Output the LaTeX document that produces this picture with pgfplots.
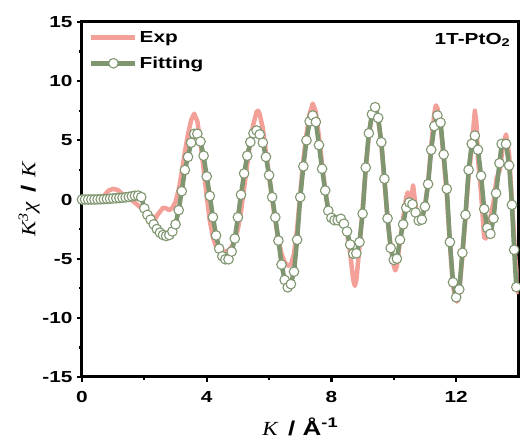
\documentclass[border=0pt]{standalone}
\usepackage{pgfplots}
\pgfplotsset{compat=1.18}
\usepackage{fontspec}
\setmainfont{Liberation Sans}[FakeStretch=1.3]
\newfontfamily\tnr{Liberation Serif}[FakeStretch=1.15]
\definecolor{expc}{RGB}{242,160,152}
\definecolor{fitc}{RGB}{128,150,112}
\begin{document}
\begin{tikzpicture}
\path[use as bounding box] (-82pt,-67pt) rectangle (438pt,377pt);
\begin{axis}[
  scale only axis,
  width=436.5pt, height=355pt,
  xmin=0, xmax=14, ymin=-15, ymax=15,
  xtick={0,4,8,12}, ytick={-15,-10,-5,0,5,10,15},
  minor xtick={2,6,10}, minor ytick={-12.5,-7.5,-2.5,2.5,7.5,12.5},
  xtick pos=bottom, ytick pos=left,
  tick align=outside,
  major tick length=5pt, minor tick length=3pt,
  every tick/.style={black, line width=2.2pt},
  axis line style={line width=3pt},
  /pgf/number format/assume math mode=true,
  ticklabel style={font=\fontsize{16}{16}\selectfont\bfseries},
  xticklabel style={yshift=-6pt},
  yticklabel style={xshift=-1pt},
  xlabel={{\tnr\itshape K}\, \textbf{/ Å\textsuperscript{-1}}},
  ylabel={{\tnr\itshape K\textsuperscript{3}χ}\, \textbf{/} {\tnr\itshape K}},
  label style={font=\fontsize{20}{20}\selectfont},
  xlabel style={yshift=-8pt},
  ylabel style={yshift=-4pt},
  legend style={at={(axis description cs:0,1)}, anchor=north west,
    xshift=5pt, yshift=-5pt, draw=none, fill=none,
    font=\fontsize{16}{16}\selectfont\bfseries, row sep=9pt,
    inner sep=2pt},
  legend cell align=left,
  legend image code/.code={\draw[mark repeat=2,mark phase=2,#1] plot coordinates {(0pt,0pt) (22pt,0pt) (44pt,0pt)};},
]
\addplot[expc, line width=4.5pt, line join=round] table {
0.0 0.0
0.5 0.0
0.7 0.3
0.85 0.75
1.0 0.9
1.15 0.8
1.3 0.45
1.45 0.2
1.6 -0.05
1.8 -0.5
2.0 -0.9
2.2 -1.3
2.35 -1.6
2.45 -1.2
2.6 -0.7
2.7 -0.75
2.8 -0.9
2.9 -0.7
3.0 -0.2
3.1 0.8
3.2 2.3
3.3 4.0
3.4 5.5
3.5 6.7
3.6 7.25
3.7 6.6
3.8 4.8
3.9 2.6
4.0 0.3
4.1 -1.8
4.2 -3.2
4.3 -4.0
4.4 -4.4
4.5 -4.5
4.6 -4.4
4.7 -4.3
4.8 -4.0
4.9 -3.4
5.0 -2.5
5.1 -1.0
5.2 1.0
5.3 3.0
5.4 4.9
5.5 6.4
5.6 7.4
5.65 7.5
5.7 7.2
5.8 6.0
5.9 4.0
6.0 2.0
6.1 0.0
6.2 -1.8
6.3 -3.4
6.4 -4.6
6.5 -5.3
6.6 -5.6
6.7 -5.5
6.8 -4.6
6.9 -2.5
7.0 0.5
7.1 3.3
7.2 5.5
7.3 7.2
7.4 8.1
7.5 7.4
7.6 5.3
7.7 3.0
7.8 0.8
7.9 -0.9
8.0 -1.5
8.1 -1.7
8.2 -1.7
8.3 -1.6
8.4 -2.0
8.5 -2.8
8.6 -4.5
8.7 -6.8
8.75 -7.3
8.8 -6.8
8.9 -4.0
9.0 -0.8
9.1 2.6
9.2 5.4
9.3 7.1
9.4 7.7
9.5 6.8
9.6 4.7
9.7 1.6
9.8 -1.6
9.9 -4.0
10.0 -5.6
10.05 -6.0
10.1 -5.6
10.2 -3.5
10.3 -1.6
10.4 0.2
10.45 0.6
10.5 0.0
10.55 -0.1
10.62 1.2
10.7 -0.6
10.8 -1.5
10.9 -1.6
11.0 -0.6
11.1 1.4
11.2 4.5
11.3 7.3
11.35 7.95
11.4 7.7
11.5 6.4
11.6 3.5
11.7 0.4
11.8 -3.8
11.9 -7.3
12.0 -8.6
12.05 -8.6
12.1 -7.8
12.2 -4.8
12.3 -1.5
12.4 2.0
12.5 4.4
12.6 7.5
12.65 6.5
12.7 3.5
12.8 0.5
12.9 -3.2
12.95 -3.3
13.0 -2.5
13.1 -1.5
13.2 -0.2
13.3 1.8
13.4 2.5
13.5 4.5
13.6 5.5
13.7 3.8
13.8 -0.6
13.9 -5.0
14.0 -8.0
};
\addlegendentry{Exp}
\addplot[fitc, line width=4.5pt, line join=round, mark=*, mark size=4.8pt,
  mark options={fill=white, draw=fitc, line width=1.1pt}] table {
0.0 0.00
0.1 0.00
0.2 0.00
0.3 0.00
0.4 0.00
0.5 0.01
0.6 0.02
0.7 0.03
0.8 0.05
0.9 0.07
1.0 0.09
1.1 0.11
1.2 0.13
1.3 0.15
1.4 0.18
1.5 0.22
1.6 0.27
1.7 0.32
1.8 0.33
1.9 0.20
2.0 -0.75
2.1 -1.30
2.2 -1.70
2.3 -2.10
2.4 -2.50
2.5 -2.80
2.6 -3.00
2.7 -3.08
2.8 -3.00
2.9 -2.70
3.0 -2.10
3.1 -0.90
3.2 0.70
3.3 2.50
3.4 3.60
3.5 4.80
3.6 5.55
3.7 5.55
3.8 4.90
3.9 3.70
4.0 1.95
4.1 0.30
4.2 -1.50
4.3 -3.04
4.4 -4.15
4.5 -4.80
4.6 -5.05
4.7 -5.05
4.8 -4.40
4.9 -3.30
5.0 -1.50
5.1 0.40
5.2 2.20
5.3 3.70
5.4 4.85
5.5 5.60
5.6 5.83
5.7 5.50
5.8 4.80
5.9 3.60
6.0 2.05
6.1 0.20
6.2 -1.50
6.3 -3.47
6.4 -5.50
6.5 -6.80
6.6 -7.42
6.7 -7.15
6.8 -6.10
6.9 -3.40
7.0 0.20
7.1 2.80
7.2 5.00
7.3 6.60
7.4 7.10
7.5 6.55
7.6 4.60
7.7 2.60
7.8 0.76
7.9 -0.95
8.0 -1.55
8.1 -1.75
8.2 -1.75
8.3 -1.63
8.4 -2.05
8.5 -2.70
8.6 -3.80
8.7 -4.58
8.8 -4.55
8.9 -3.60
9.0 -1.20
9.1 2.70
9.2 5.60
9.3 7.20
9.4 7.80
9.5 6.90
9.6 4.84
9.7 1.75
9.8 -1.60
9.9 -4.10
10.0 -5.10
10.1 -5.00
10.2 -3.40
10.3 -2.10
10.4 -0.70
10.5 -0.25
10.6 -0.40
10.7 -1.10
10.8 -1.78
10.9 -1.70
11.0 -0.60
11.1 1.30
11.2 4.20
11.3 6.20
11.4 7.10
11.5 6.50
11.6 3.80
11.7 0.90
11.8 -3.60
11.9 -7.00
12.0 -8.26
12.1 -7.60
12.2 -4.50
12.3 -1.30
12.4 2.50
12.5 4.70
12.6 5.40
12.7 4.20
12.8 2.00
12.9 -0.80
13.0 -2.40
13.1 -2.90
13.2 -1.60
13.28 0.53
13.39 3.07
13.46 4.70
13.6 4.70
13.7 2.87
13.79 -0.45
13.86 -4.25
13.93 -7.40
};
\addlegendentry{Fitting}
\node[anchor=north east, inner sep=0pt, font=\fontsize{16}{16}\selectfont\bfseries]
  at (rel axis cs:1,1) [xshift=-8pt, yshift=-11pt] {1T-PtO\textsubscript{2}};
\end{axis}
\end{tikzpicture}
\end{document}
